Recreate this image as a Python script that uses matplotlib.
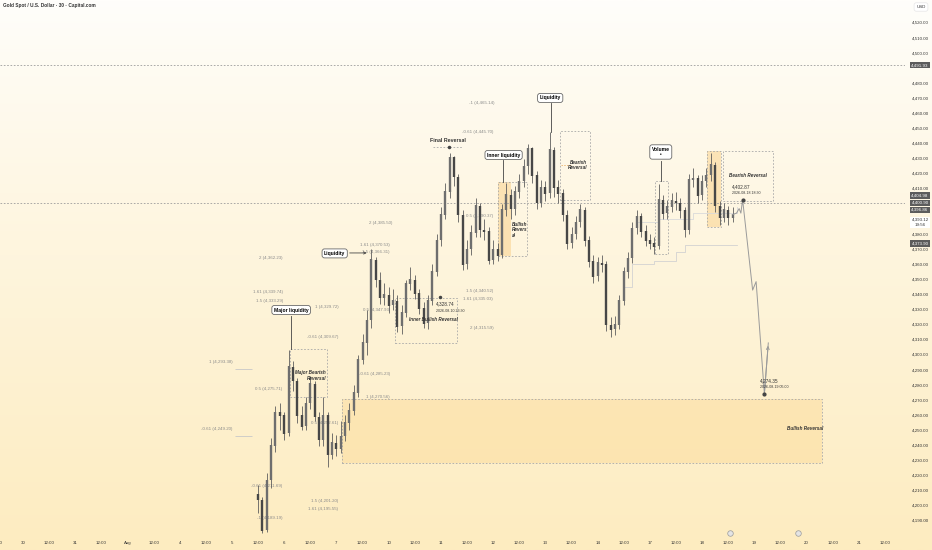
import matplotlib
matplotlib.use("Agg")
import matplotlib.pyplot as plt
import matplotlib.transforms as mtransforms
from matplotlib.patches import Rectangle
import numpy as np

plt.rcParams["font.family"] = ["Liberation Sans Narrow", "Liberation Sans", "DejaVu Sans"]

# ---- data -------------------------------------------------------------
# 2h bars, 6 bars per half day on the time axis (weekends removed)
first_bar = 60
first_open = 4208
closes = [
    4204, 4184, 4217, 4240, 4262, 4260, 4248, 4292, 4283, 4260,
    4253, 4268, 4281, 4259, 4244, 4260, 4234, 4242, 4238, 4246,
    4255, 4263, 4275, 4297, 4308, 4323, 4363, 4350, 4338, 4340,
    4333, 4336, 4319, 4328, 4347, 4350, 4341, 4331, 4321, 4336,
    4355, 4376, 4393, 4408, 4431, 4418, 4393, 4360, 4370, 4381,
    4399, 4383, 4382, 4363, 4370, 4366, 4396, 4406, 4397, 4408,
    4415, 4425, 4437, 4419, 4401, 4411, 4407, 4436, 4411, 4407,
    4393, 4374, 4380, 4388, 4396, 4376, 4362, 4352, 4361, 4360,
    4320, 4317, 4320, 4336, 4355, 4364, 4384, 4392, 4382, 4376,
    4374, 4372, 4403, 4394, 4398, 4402, 4401, 4396, 4383, 4416,
    4417, 4406, 4415, 4419, 4426, 4399, 4391, 4396, 4391, 4393,
]
highs = [
    4214, 4206, 4222, 4245, 4266, 4268, 4262, 4303, 4296, 4285,
    4266, 4272, 4286, 4283, 4262, 4272, 4262, 4248, 4247, 4256,
    4260, 4268, 4280, 4300, 4314, 4330, 4370, 4365, 4355, 4348,
    4345, 4344, 4340, 4333, 4350, 4358, 4353, 4344, 4335, 4340,
    4360, 4380, 4398, 4414, 4434, 4432, 4420, 4396, 4376, 4386,
    4404, 4401, 4390, 4385, 4376, 4374, 4400, 4414, 4410, 4412,
    4420, 4430, 4440, 4438, 4422, 4416, 4415, 4448, 4438, 4416,
    4410, 4396, 4385, 4392, 4400, 4398, 4379, 4366, 4365, 4366,
    4362, 4325, 4326, 4340, 4358, 4368, 4388, 4396, 4394, 4386,
    4380, 4378, 4413, 4406, 4403, 4407, 4408, 4404, 4398, 4420,
    4424, 4419, 4419, 4424, 4434, 4428, 4402, 4401, 4399, 4398,
]
lows = [
    4195, 4182, 4183, 4212, 4236, 4250, 4244, 4246, 4276, 4255,
    4250, 4250, 4264, 4256, 4240, 4240, 4226, 4231, 4233, 4235,
    4243, 4250, 4260, 4272, 4294, 4300, 4318, 4345, 4334, 4333,
    4328, 4330, 4315, 4314, 4325, 4343, 4337, 4327, 4318, 4317,
    4333, 4352, 4372, 4390, 4404, 4412, 4388, 4356, 4357, 4366,
    4378, 4378, 4376, 4360, 4360, 4362, 4364, 4392, 4390, 4393,
    4404, 4411, 4420, 4414, 4397, 4398, 4402, 4404, 4405, 4401,
    4389, 4370, 4371, 4377, 4385, 4372, 4358, 4348, 4349, 4355,
    4316, 4312, 4313, 4317, 4333, 4351, 4361, 4380, 4378, 4372,
    4370, 4367, 4370, 4390, 4390, 4395, 4396, 4391, 4378, 4380,
    4411, 4401, 4403, 4411, 4415, 4395, 4386, 4388, 4386, 4388,
]

# projected path
proj_bars = [169, 169.9, 170.5, 170.9, 171.3, 173.6, 174.4, 176.3, 177.2]
proj_prices = [4393, 4394, 4397, 4394, 4402.87, 4343, 4348.6, 4274.35, 4308]

# faint indicator lines
faint_a_bars = [144, 146, 151, 156, 158, 170]
faint_a_prices = [4345, 4360, 4362, 4368, 4373, 4373]
faint_b_bars = [147, 152, 160, 170]
faint_b_prices = [4388, 4390, 4394, 4398]

# zones: (bar0, bar1, low, high)
bull_zone = (79.3, 189.6, 4228.4, 4270.56)
dashed_boxes = [
    (67.3, 75.8, 4272, 4304),
    (91.5, 105.7, 4308, 4338),
    (115.1, 121.8, 4365.6, 4414.6),
    (129.4, 136.3, 4402.7, 4448.4),
    (151.2, 154.2, 4367, 4415),
    (163.1, 166.4, 4385, 4435),
    (166.8, 178.3, 4402, 4435),
]
orange_boxes = [
    (115.1, 118.1, 4365.6, 4414.6),
    (163.1, 166.4, 4385, 4435),
]

# fib labels: (text, right bar, price)
fib_labels = [
    ("2 (4,362.23)", 65.7, 4364.3),
    ("1.61 (4,339.74)", 65.7, 4341.7),
    ("1.5 (4,333.29)", 65.7, 4335.8),
    ("1 (4,293.38)", 54.2, 4295.3),
    ("0.5 (4,275.71)", 65.5, 4277.4),
    ("-0.61 (4,249.20)", 54.2, 4250.9),
    ("-0.61 (4,211.69)", 65.5, 4213.2),
    ("-1 (4,189.19)", 65.5, 4192.0),
    ("1.5 (4,201.20)", 78.4, 4203.2),
    ("1.61 (4,195.55)", 78.4, 4197.9),
    ("1 (4,329.72)", 78.4, 4331.8),
    ("-0.61 (4,309.67)", 78.4, 4311.9),
    ("0.5 (4,252.61)", 78.4, 4254.9),
    ("-0.61 (4,285.23)", 90.3, 4287.4),
    ("1 (4,270.56)", 90.3, 4272.2),
    ("1.61 (4,370.53)", 90.3, 4372.9),
    ("1.5 (4,366.31)", 90.3, 4368.2),
    ("2 (4,385.50)", 90.8, 4387.5),
    ("0.5 (4,347.93)", 90.3, 4329.8),
    ("0.5 (4,390.37)", 114.0, 4392.1),
    ("1.5 (4,340.52)", 114.0, 4342.4),
    ("1.61 (4,335.03)", 114.0, 4337.1),
    ("2 (4,315.59)", 114.0, 4317.9),
    ("-0.61 (4,445.70)", 114.0, 4447.8),
    ("-1 (4,465.14)", 114.4, 4467.0),
]

x_labels = ["12:00", "30", "12:00", "31", "12:00", "Aug", "12:00", "4", "12:00", "5",
            "12:00", "6", "12:00", "7", "12:00", "10", "12:00", "11", "12:00", "12",
            "12:00", "13", "12:00", "14", "12:00", "17", "12:00", "18", "12:00", "19",
            "12:00", "20", "12:00", "21", "12:00"]
# price scale labels (4400, 4390 and 4490 sit under the price tags)
price_ticks = [p for p in range(4190, 4530, 10) if p not in (4390, 4400, 4490)]
price_tags = [(4491.93, "4,491.93"), (4405.6, "4,404.98"), (4400.9, "4,400.90"),
              (4396.2, "4,396.86"), (4373.9, "4,373.90")]

# ---- figure -----------------------------------------------------------
fig = plt.figure(figsize=(9.32, 5.5), dpi=100)
bg = fig.add_axes([0, 0, 1, 1], zorder=-10)
grad = np.linspace(0, 1, 256).reshape(-1, 1)
top = np.array([255, 254, 251]) / 255
bot = np.array([253, 236, 192]) / 255
img = top + (bot - top) * grad[:, :, None] ** 0.9
bg.imshow(img, aspect="auto", extent=[0, 1, 0, 1], origin="upper")
bg.axis("off")

ax = fig.add_axes([0, 13 / 550, 905 / 932, 537 / 550])
ax.patch.set_alpha(0)
ax.set_xlim(0.72, 208.6)
ax.set_ylim(4179.4, 4535.2)
for s in ax.spines.values():
    s.set_visible(False)
ax.set_xticks([])
ax.set_yticks([])

# horizontal dotted levels
for lvl in (4491.93, 4400.90):
    ax.axhline(lvl, color="#9c9c9c", lw=0.6, ls=(0, (2, 2)), zorder=1)

# zones
b0, b1, lo, hi = bull_zone
ax.add_patch(Rectangle((b0, lo), b1 - b0, hi - lo, fc="#fbd890", alpha=0.42, ec="none", zorder=0.5))
ax.add_patch(Rectangle((b0, lo), b1 - b0, hi - lo, fc="none", ec="#a8a8a8", lw=0.6, ls=(0, (2, 2)), zorder=1))
for b0, b1, lo, hi in orange_boxes:
    ax.add_patch(Rectangle((b0, lo), b1 - b0, hi - lo, fc="#f9cf86", alpha=0.5, ec="none", zorder=0.6))
for b0, b1, lo, hi in dashed_boxes:
    ax.add_patch(Rectangle((b0, lo), b1 - b0, hi - lo, fc="none", ec="#a8a8a8", lw=0.6, ls=(0, (2, 2)), zorder=1))

# faint lines
ax.plot(faint_a_bars, faint_a_prices, drawstyle="steps-post", color="#d2d2d2", lw=0.6, zorder=1.5)
ax.plot(faint_b_bars, faint_b_prices, drawstyle="steps-post", color="#dadada", lw=0.6, zorder=1.5)

# candles
bars = np.arange(first_bar, first_bar + len(closes))
opens = np.array([first_open] + closes[:-1], dtype=float)
cl = np.array(closes, dtype=float)
up = cl >= opens
ax.vlines(bars, lows, highs, color="#5e5e5e", lw=0.6, zorder=3)
ax.vlines(bars[up], opens[up], cl[up] + 0.4, color="#6e6e6e", lw=1.7, zorder=3)
ax.vlines(bars[~up], cl[~up] - 0.4, opens[~up], color="#474747", lw=1.7, zorder=3)

# projection
ax.plot(proj_bars, proj_prices, color="#9a9a9a", lw=0.7, zorder=4)
ax.annotate("", xy=(proj_bars[-1], proj_prices[-1]), xytext=(proj_bars[-2], proj_prices[-2]),
            arrowprops=dict(arrowstyle="->", color="#9a9a9a", lw=0.7, mutation_scale=5), zorder=4)
ax.plot([proj_bars[4], proj_bars[7]], [proj_prices[4], proj_prices[7]], "o", ms=2, color="#444444", zorder=5)

# fib labels
for txt, xb, pr in fib_labels:
    ax.text(xb, pr, txt, ha="right", va="center", fontsize=3.2, color="#8a8a8a", zorder=2)
ax.hlines([4291.0, 4246.6], [54.7, 54.7], [58.6, 58.6], color="#c8c8c8", lw=0.6, zorder=1)

# callouts
box = dict(boxstyle="round,pad=0.4,rounding_size=0.5", fc="white", ec="#6a6a6a", lw=0.6)
ax.text(67.6, 4329.8, "Major liquidity", ha="center", va="center", fontsize=3.6, fontweight="bold", bbox=box, zorder=6)
ax.plot([67.6, 67.6], [4326.0, 4304], color="#444444", lw=0.6, zorder=5)
ax.text(77.6, 4367.3, "Liquidity", ha="center", va="center", fontsize=3.6, fontweight="bold", bbox=box, zorder=6)
ax.annotate("", xy=(85.6, 4367.6), xytext=(80.4, 4367.6),
            arrowprops=dict(arrowstyle="->", color="#444444", lw=0.6, mutation_scale=4), zorder=5)
ax.text(116.4, 4432.5, "Inner liquidity", ha="center", va="center", fontsize=3.6, fontweight="bold", bbox=box, zorder=6)
ax.plot([116.3, 116.3], [4429.0, 4414.6], color="#444444", lw=0.6, zorder=5)
ax.text(127.1, 4470.3, "Liquidity", ha="center", va="center", fontsize=3.6, fontweight="bold", bbox=box, zorder=6)
ax.plot([127.3, 127.3], [4467.0, 4447.8], color="#444444", lw=0.6, zorder=5)
ax.text(152.5, 4434.5, "Volume\n•", ha="center", va="center", fontsize=3.6, fontweight="bold",
        linespacing=1.1, bbox=box, zorder=6)
ax.plot([152.6, 152.6], [4428.5, 4415], color="#444444", lw=0.6, zorder=5)

# final reversal marker
ax.plot([100.2, 106.8], [4437.8, 4437.8], color="#a8a8a8", lw=0.6, ls=(0, (2, 2)), zorder=2)
ax.plot([103.9], [4437.8], "o", ms=1.5, color="#444444", zorder=5)
ax.text(103.6, 4441.8, "Final Reversal", ha="center", va="center", fontsize=3.8, fontweight="bold", color="#333333", zorder=6)

# zone texts
it = dict(fontsize=3.3, fontweight="bold", style="italic", color="#333333", zorder=6)
ax.text(75.6, 4286.5, "Major Bearish\nReversal", ha="right", va="center", linespacing=1.2, **it)
ax.text(100.2, 4323.2, "Inner Bullish Reversal", ha="center", va="center", **it)
ax.text(118.3, 4383, "Bullish\nRevers\nal", ha="left", va="center", linespacing=1.1, **it)
ax.text(135.6, 4425.9, "Bearish\nReversal", ha="right", va="center", linespacing=1.2, **it)
ax.plot([129.6, 131.8], [4425.9, 4425.9], color="#e8a24a", lw=0.5, ls=(0, (2, 2)), zorder=2)
ax.text(172.6, 4418.6, "Bearish Reversal", ha="center", va="center", **it)
ax.text(185.6, 4251.0, "Bullish Reversal", ha="center", va="center", **it)

# price/date labels
ax.plot([101.8], [4338.4], "o", ms=1.5, color="#444444", zorder=5)
ax.text(100.9, 4333.8, "4,328.74", ha="left", va="center", fontsize=3.4, color="#333333", zorder=6)
ax.text(100.9, 4329.4, "2026-08-10 23:30", ha="left", va="center", fontsize=2.6, color="#333333", zorder=6)
ax.text(168.8, 4411.3, "4,402.87", ha="left", va="center", fontsize=3.4, color="#333333", zorder=6)
ax.text(168.8, 4407.6, "2026-08-18 18:30", ha="left", va="center", fontsize=2.6, color="#333333", zorder=6)
ax.text(175.2, 4282.8, "4,274.35", ha="left", va="center", fontsize=3.4, color="#333333", zorder=6)
ax.text(175.2, 4279.0, "2026-08-19 05:00", ha="left", va="center", fontsize=2.6, color="#333333", zorder=6)

# right price axis
ty = mtransforms.blended_transform_factory(ax.transAxes, ax.transData)
xr = 920 / 905
for p in price_ticks:
    ax.text(xr, p, f"{p:,.2f}", ha="center", va="center", fontsize=3.2, color="#333333",
            transform=ty, clip_on=False, zorder=7)
tag = dict(boxstyle="square,pad=0.25", fc="#5c5c5c", ec="none")
for p, t in price_tags:
    ax.text(xr, p, t, ha="center", va="center", fontsize=3.2, color="white", bbox=tag,
            transform=ty, clip_on=False, zorder=9)
ax.text(xr, 4387.8, "4,393.12\n19:56", ha="center", va="center", fontsize=3.2, color="#333333",
        linespacing=1.3, bbox=dict(boxstyle="square,pad=0.25", fc="white", ec="none"),
        transform=ty, clip_on=False, zorder=8)
fig.text(921 / 932, 1 - 7 / 550, "USD", ha="center", va="center", fontsize=3.2, color="#333333",
         bbox=dict(boxstyle="round,pad=0.5", fc="white", ec="#e6e6e6", lw=0.5))

# time axis
tx = mtransforms.blended_transform_factory(ax.transData, ax.transAxes)
for k, lab in enumerate(x_labels):
    ax.text(6 * k, -0.011, lab, ha="center", va="center", fontsize=3.2, color="#333333",
            transform=tx, clip_on=False, zorder=7)
ax.plot([168.5, 184.0], [0.008, 0.008], "o", ms=4, mfc="#e4e4e4", mec="#9a9a9a", mew=0.5,
        transform=tx, clip_on=False, zorder=7)

fig.text(3 / 932, 1 - 6 / 550, "Gold Spot / U.S. Dollar · 30 · Capital.com", ha="left", va="center",
         fontsize=3.4, fontweight="bold", color="#333333")

fig.savefig("out.png", dpi=100)
